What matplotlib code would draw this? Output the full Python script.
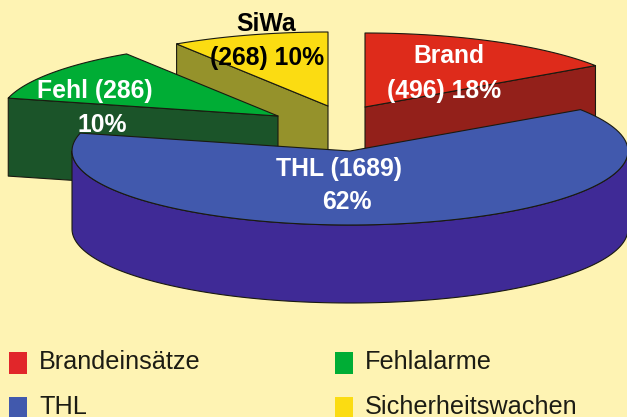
import numpy as np
import matplotlib
matplotlib.use("Agg")
import matplotlib.pyplot as plt
from matplotlib.patches import Polygon, Rectangle

plt.rcParams["font.family"] = ["Liberation Sans", "DejaVu Sans"]

names = ["Brandeinsätze", "THL", "Fehlalarme", "Sicherheitswachen"]
short = ["Brand", "THL", "Fehl", "SiWa"]
counts = [496, 1689, 286, 268]
percent = [18, 62, 10, 10]
# slice sizes as drawn in the picture (degrees), not quite the same as the percents
arcs = [56, 228, 43, 33]

top_col = ["#DE2B1B", "#4159AD", "#00AD35", "#FBDC12"]
side_col = ["#93201A", "#3F2A96", "#1B5429", "#95922B"]
bg = "#FEF3B3"

# pie drawn in pixel coordinates
a, b, depth = 278, 74, 78
centers = {"Brand": (365, 107), "THL": (350, 151), "Fehl": (278, 116), "SiWa": (328, 106)}

# slices run counter-clockwise from 34 deg: Brand, SiWa, Fehl, THL
order = [0, 3, 2, 1]
starts = {}
ang = 34
for i in order:
    starts[i] = ang
    ang += arcs[i]

fig = plt.figure(figsize=(6.27, 4.17), dpi=100, facecolor=bg)
ax = fig.add_axes([0, 0, 1, 1])
ax.set_xlim(0, 627)
ax.set_ylim(417, 0)
ax.axis("off")


def rim(i, t0, t1):
    cx, cy = centers[short[i]]
    t = np.radians(np.linspace(t0, t1, 120))
    return np.column_stack([cx + a * np.cos(t), cy - b * np.sin(t)])


def poly(pts, col, z):
    ax.add_patch(Polygon(pts, closed=True, facecolor=col, edgecolor="#1a1a10", lw=0.8,
                         joinstyle="round", zorder=z))


def cut_face(i, t, z):
    # flat cut side of a slice, from the centre out to the rim at angle t
    cx, cy = centers[short[i]]
    p = rim(i, t, t)[0]
    pts = [(cx, cy), tuple(p), (p[0], p[1] + depth), (cx, cy + depth)]
    poly(pts, side_col[i], z)


def draw_slice(i, z):
    t0 = starts[i]
    t1 = t0 + arcs[i]
    cx, cy = centers[short[i]]
    if i == 0:
        cut_face(i, t0, z)
    elif i == 3:
        cut_face(i, t1, z)
    elif i == 2:
        cut_face(i, t1, z)
    else:
        # outer wall of the big slice, only the front half shows
        front = rim(i, 180, 360)
        low = front + [0, depth]
        poly(np.vstack([front, low[::-1]]), side_col[i], z)
    poly(np.vstack([[(cx, cy)], rim(i, t0, t1)]), top_col[i], z + 0.5)


for i, z in zip([3, 0, 2, 1], [1, 2, 3, 4]):
    draw_slice(i, z)

# labels
big = dict(fontsize=17.8, fontweight="bold", ha="center", va="center", zorder=10)
ax.text(449, 56, short[0], color="white", **big)
ax.text(444, 91, f"({counts[0]}) {percent[0]}%", color="white", **big)
ax.text(339, 169, f"{short[1]} ({counts[1]})", color="white", **big)
ax.text(347, 202, f"{percent[1]}%", color="white", **big)
ax.text(95, 91, f"{short[2]} ({counts[2]})", color="white", **big)
ax.text(102, 125, f"{percent[2]}%", color="white", **big)
ax.text(266, 24, short[3], color="black", **big)
ax.text(267, 58, f"({counts[3]}) {percent[3]}%", color="black", **big)

# legend
leg_x = [8, 8, 334, 334]
leg_y = [352, 397, 352, 397]
leg_col = ["#E1262A", "#4159AD", "#00AD35", "#FBDC12"]
for i in range(4):
    ax.add_patch(Rectangle((leg_x[i] + 1, leg_y[i]), 18, 21.5, facecolor=leg_col[i], edgecolor="none"))
    ax.text(leg_x[i] + 31, leg_y[i] + 10, names[i], fontsize=18.2, color="#1c1c14", ha="left", va="center")

fig.savefig("out.png", dpi=100, facecolor=bg)
